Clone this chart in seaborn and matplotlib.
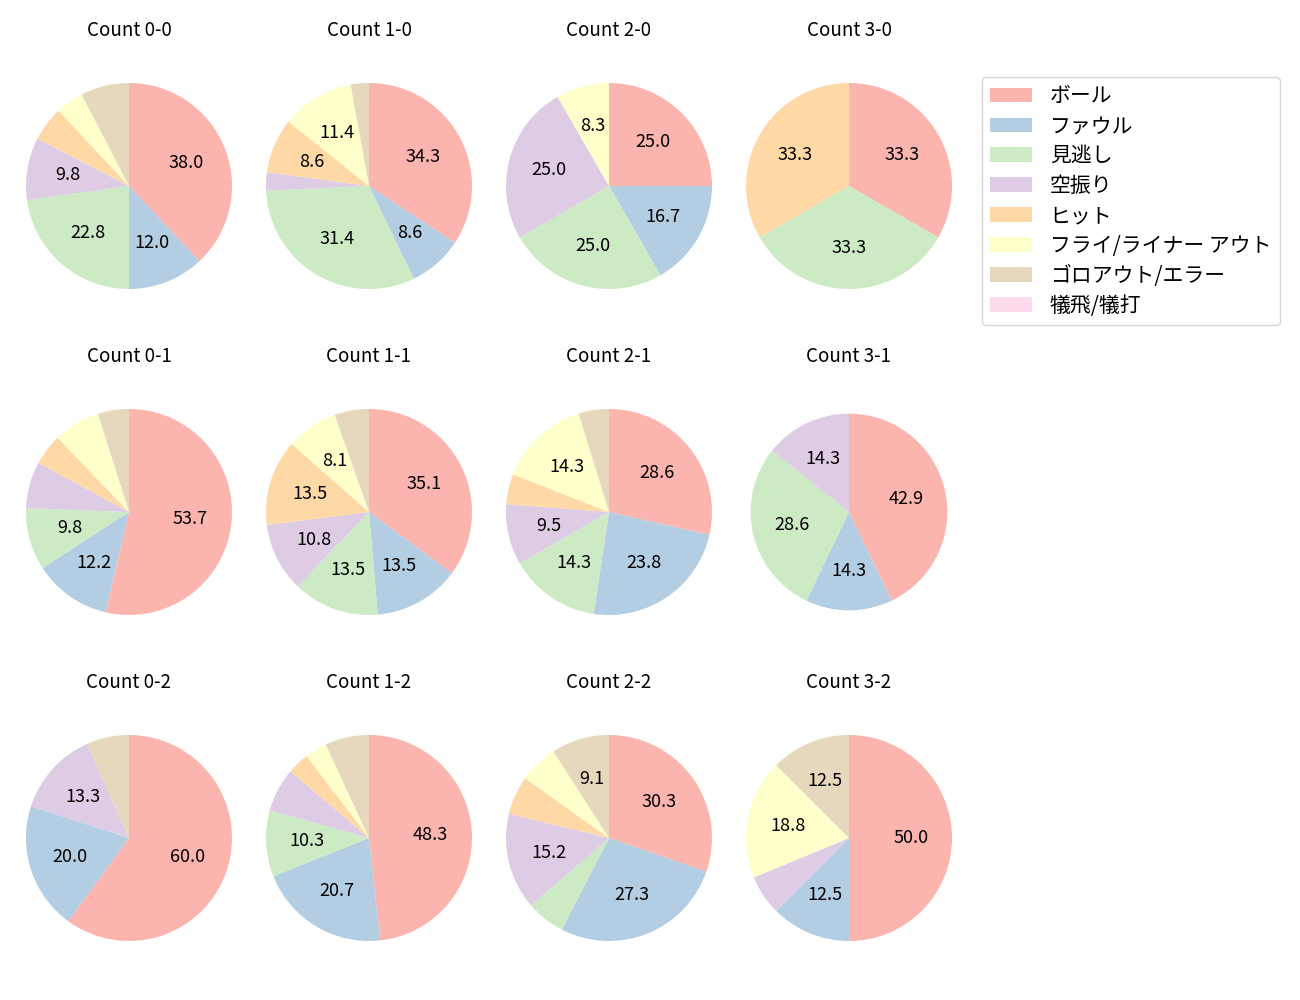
import matplotlib
matplotlib.use("Agg")
import matplotlib.pyplot as plt
import seaborn as sns
import numpy as np

categories = ["ボール", "ファウル", "見逃し", "空振り", "ヒット",
              "フライ/ライナー アウト", "ゴロアウト/エラー", "犠飛/犠打"]

count_titles = [["Count 0-0", "Count 1-0", "Count 2-0", "Count 3-0"],
                ["Count 0-1", "Count 1-1", "Count 2-1", "Count 3-1"],
                ["Count 0-2", "Count 1-2", "Count 2-2", "Count 3-2"]]

# counts per category (order as categories)
c00 = [35, 11, 21, 9, 5, 4, 7, 0]
c10 = [12, 3, 11, 1, 3, 4, 1, 0]
c20 = [3, 2, 3, 3, 0, 1, 0, 0]
c30 = [1, 0, 1, 0, 1, 0, 0, 0]
c01 = [22, 5, 4, 3, 2, 3, 2, 0]
c11 = [13, 5, 5, 4, 5, 3, 2, 0]
c21 = [6, 5, 3, 2, 1, 3, 1, 0]
c31 = [3, 1, 2, 1, 0, 0, 0, 0]
c02 = [9, 3, 0, 2, 0, 0, 1, 0]
c12 = [14, 6, 3, 2, 1, 1, 2, 0]
c22 = [10, 9, 2, 5, 2, 2, 3, 0]
c32 = [8, 2, 0, 1, 0, 3, 2, 0]

grid = [[c00, c10, c20, c30],
        [c01, c11, c21, c31],
        [c02, c12, c22, c32]]

sns.set_style("white")
plt.rcParams['font.family'] = ['Noto Sans CJK JP', 'DejaVu Sans']
plt.rcParams['text.color'] = 'black'

colors = sns.color_palette("Pastel1", 8)

W, H = 1300, 1000
fig = plt.figure(figsize=(13, 10), dpi=100)

cx = [129, 369, 609, 849]
cy = [186, 512, 838]
D = 206

def fmt(p):
    return f"{p:.1f}" if p >= 8 else ""

wedges_ref = None
for r in range(3):
    for c in range(4):
        ax = fig.add_axes([(cx[c] - D / 2) / W, 1 - (cy[r] + D / 2) / H, D / W, D / H])
        vals = np.array(grid[r][c], dtype=float)
        rad = 0.955 if (r == 1 and c == 3) else 1.0
        w, *_ = ax.pie(vals, colors=colors, startangle=90, counterclock=False,
                       autopct=fmt, pctdistance=0.6, radius=rad,
                       wedgeprops=dict(linewidth=0, edgecolor='none'),
                       textprops=dict(fontsize=13, color='black'))
        if r == 0 and c == 0:
            wedges_ref = w
        ax.set_xlim(-1.0, 1.0)
        ax.set_ylim(-1.0, 1.0)
        ax.set_aspect('equal')
        ax.set_title(count_titles[r][c], fontsize=13.5, pad=34, color='black')

leg = fig.legend(wedges_ref, categories, loc='upper left',
                 bbox_to_anchor=(982 / W, 1 - 77 / H), fontsize=15,
                 handlelength=2.0, handleheight=0.72, labelspacing=0.38,
                 handletextpad=0.85, borderpad=0.4, borderaxespad=0,
                 frameon=True)
leg.get_frame().set_edgecolor('#cccccc')

fig.savefig("out.png", dpi=100, facecolor="white")
